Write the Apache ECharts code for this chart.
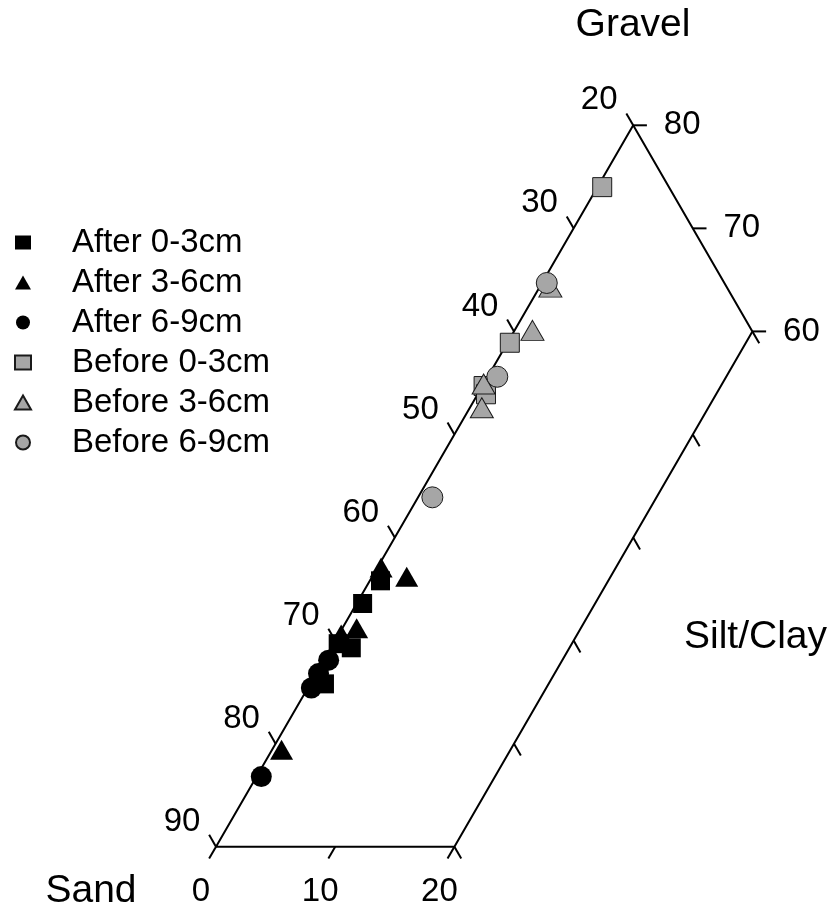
<!DOCTYPE html>
<html><head><meta charset="utf-8">
<script src="https://cdn.jsdelivr.net/npm/echarts@6/dist/echarts.min.js"></script>
<style>html,body{margin:0;padding:0;background:#fff}#c{width:833px;height:909px}</style>
</head><body><div id="c"></div><script>
// ---- data: each point is [sand, gravel, silt/clay] in percent ----
const seriesNames = ['After 0-3cm', 'After 3-6cm', 'After 6-9cm', 'Before 0-3cm', 'Before 3-6cm', 'Before 6-9cm'];
const after03 = [[63.3,35.8,0.9],[65.9,33.6,0.5],[69.9,29.7,0.4],[69.0,29.3,1.7],[73.0,25.8,1.2]];
const after36 = [[62.6,37.1,0.3],[60.9,36.2,2.9],[67.6,31.2,1.2],[69.2,30.6,0.2],[79.8,19.4,0.8]];
const after69 = [[71.5,28.1,0.4],[73.0,26.8,0.2],[74.3,25.4,0.3],[82.8,16.8,0.4]];
const before03 = [[25.6,74.0,0.4],[40.9,58.9,0.2],[45.2,54.7,0.1],[45.4,53.9,0.7]];
const before36 = [[34.8,64.3,0.9],[38.4,60.1,1.5],[46.4,52.6,1.0],[45.1,54.9,0.0]];
const before69 = [[34.9,64.7,0.4],[43.6,55.6,0.8],[54.9,43.9,1.2]];
// tick values
const sandTicks = [90,80,70,60,50,40,30,20];      // left edge (silt/clay = 0)
const siltTicks = [0,10,20];                        // bottom edge (gravel = 10)
const gravelTicks = [80,70,60];                     // upper right edge (sand = 20)
const rightSandTicks = [70,60,50,40,30,20];         // lower right edge (silt/clay = 20), unlabelled
const axisTitles = ['Gravel', 'Sand', 'Silt/Clay'];

// ---- ternary -> cartesian ----
const R3 = Math.sqrt(3) / 2;
function tern(sand, gravel, silt) { return [silt + gravel / 2, gravel * R3]; }

// layout: cartesian unit size in px and anchor of the (90,10,0) corner
const W = 833, H = 909, SX = 11.92, SY = 11.9, AX = 216, AY = 846.7;
const corner = tern(90, 10, 0);
const xMin = corner[0] - AX / SX, xMax = corner[0] + (W - AX) / SX;
const yMin = corner[1] - (H - AY) / SY, yMax = corner[1] + AY / SY;

const frame = [[90,10,0],[20,80,0],[20,60,20],[70,10,20],[90,10,0]].map(p => tern(p[0], p[1], p[2]));
const L = 1.15;
const segs = [];
sandTicks.forEach(s => segs.push(tern(s, 100 - s, 0).concat(tern(s, 100 - s + L, -L))));
siltTicks.forEach(c => segs.push(tern(90 - c, 10, c).concat(tern(90 - c + L, 10 - L, c))));
gravelTicks.forEach(g => segs.push(tern(20, g, 80 - g).concat(tern(20 - L, g, 80 - g + L))));
rightSandTicks.forEach(s => segs.push(tern(s, 80 - s, 20).concat(tern(s, 80 - s - L, 20 + L))));

const labels = [];
sandTicks.forEach(s => labels.push({p: tern(s, 100 - s, 0), t: String(s), dx: -34, dy: -25}));
siltTicks.forEach(c => labels.push({p: tern(90 - c, 10, c), t: String(c), dx: -15, dy: 45}));
gravelTicks.forEach(g => labels.push({p: tern(20, g, 80 - g), t: String(g), dx: 49, dy: 0}));

const FONT = '"Liberation Sans", Arial, Helvetica, sans-serif';
const chart = echarts.init(document.getElementById('c'), null, {renderer: 'canvas'});

function scatter(name, pts, symbol, size, before) {
  return {
    type: 'scatter', name: name, symbol: symbol, symbolSize: size,
    data: pts.map(p => tern(p[0], p[1], p[2])),
    itemStyle: before ? {color: '#a6a6a6', borderColor: '#1a1a1a', borderWidth: 1, opacity: 1}
                      : {color: '#000', borderColor: '#000', borderWidth: 0, opacity: 1},
    emphasis: {disabled: true}, z: 3
  };
}

chart.setOption({
  animation: false,
  backgroundColor: '#fff',
  grid: {left: 0, right: 0, top: 0, bottom: 0},
  xAxis: {type: 'value', min: xMin, max: xMax, show: false},
  yAxis: {type: 'value', min: yMin, max: yMax, show: false},
  legend: {
    orient: 'vertical', left: 9, top: 221, itemWidth: 16, itemHeight: 14, itemGap: 7,
    data: seriesNames, selectedMode: false,
    textStyle: {fontFamily: FONT, fontSize: 33, color: '#000', lineHeight: 30, padding: [0, 0, 0, 36]}
  },
  graphic: [
    {type: 'text', x: 633, y: 25, style: {text: axisTitles[0], font: '39px ' + FONT, fill: '#000', align: 'center', verticalAlign: 'middle'}},
    {type: 'text', x: 91, y: 891, style: {text: axisTitles[1], font: '39px ' + FONT, fill: '#000', align: 'center', verticalAlign: 'middle'}},
    {type: 'text', x: 755.5, y: 637, style: {text: axisTitles[2], font: '39px ' + FONT, fill: '#000', align: 'center', verticalAlign: 'middle'}}
  ],
  series: [
    {type: 'line', data: frame, symbol: 'none', lineStyle: {color: '#000', width: 2}, z: 1, silent: true},
    {type: 'custom', data: segs, z: 1, silent: true,
      renderItem: function (params, api) {
        const a = api.coord([api.value(0), api.value(1)]);
        const b = api.coord([api.value(2), api.value(3)]);
        return {type: 'line', shape: {x1: a[0], y1: a[1], x2: b[0], y2: b[1]}, style: {stroke: '#000', lineWidth: 2}};
      }},
    {type: 'custom', data: labels.map(l => l.p), z: 2, silent: true,
      renderItem: function (params, api) {
        const l = labels[params.dataIndex];
        const a = api.coord([api.value(0), api.value(1)]);
        return {type: 'text', x: a[0] + l.dx, y: a[1] + l.dy,
          style: {text: l.t, font: '33px ' + FONT, fill: '#000', align: 'center', verticalAlign: 'middle'}};
      }},
    scatter(seriesNames[0], after03, 'rect', 19, false),
    scatter(seriesNames[1], after36, 'triangle', [23, 20], false),
    scatter(seriesNames[2], after69, 'circle', 21, false),
    scatter(seriesNames[3], before03, 'rect', 19, true),
    scatter(seriesNames[4], before36, 'triangle', [23, 20], true),
    scatter(seriesNames[5], before69, 'circle', 21, true)
  ]
});
</script></body></html>
